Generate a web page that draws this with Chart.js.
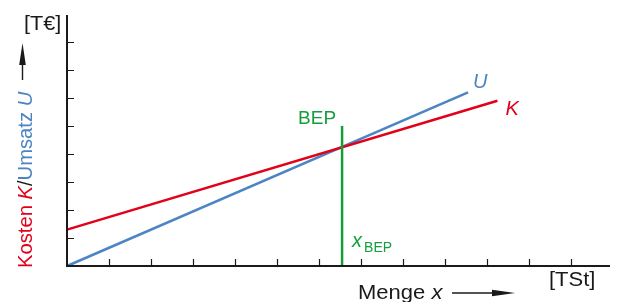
<!DOCTYPE html>
<html>
<head>
<meta charset="UTF-8">
<title>Break-even</title>
<script src="https://cdn.jsdelivr.net/npm/chart.js@4/dist/chart.umd.min.js"></script>
<style>
  html, body { margin: 0; padding: 0; background: #fff; }
  #wrap { width: 619px; height: 302px; }
</style>
</head>
<body>
<div id="wrap"><canvas id="canvas" width="619" height="302"></canvas></div>
<script>
// Werte (x in TSt-Einheiten, y in T€-Einheiten)
const kostenX = [0, 10.25];
const kostenY = [1.3, 5.9];
const umsatzX = [0, 9.55];
const umsatzY = [0, 6.2];
const bepX = [6.55, 6.55];
const bepY = [0, 5];
const xTicks = [1, 2, 3, 4, 5, 6, 7, 8, 9, 10, 11, 12];
const yTicks = [1, 2, 3, 4, 5, 6, 7, 8];

const RED = '#e2001a';
const BLUE = '#4d84c4';
const GREEN = '#139e3c';
const INK = '#1a1a1a';
const FONT = '"Liberation Sans", Arial, sans-serif';

function pts(xs, ys) {
  return xs.map((v, i) => ({ x: v, y: ys[i] }));
}

// Text in mehreren Farben nacheinander schreiben, optional horizontal gestreckt
function runs(ctx, x, y, parts, sx) {
  sx = sx || 1;
  ctx.save();
  ctx.translate(x, y);
  ctx.scale(sx, 1);
  let cx = 0;
  parts.forEach(p => {
    ctx.font = p.font;
    ctx.fillStyle = p.color;
    ctx.fillText(p.text, cx, 0);
    cx += ctx.measureText(p.text).width;
  });
  ctx.restore();
}

const overlay = {
  id: 'overlay',
  afterDatasetsDraw(chart) {
    const ctx = chart.ctx;
    const a = chart.chartArea;
    const xs = chart.scales.x, ys = chart.scales.y;
    ctx.save();

    // Achsen
    ctx.strokeStyle = INK;
    ctx.lineWidth = 2;
    ctx.beginPath();
    ctx.moveTo(a.left, a.top);
    ctx.lineTo(a.left, a.bottom);
    ctx.lineTo(a.right, a.bottom);
    ctx.stroke();

    ctx.lineWidth = 1.2;
    ctx.beginPath();
    xTicks.forEach(v => {
      const px = Math.round(xs.getPixelForValue(v)) + 0.5;
      ctx.moveTo(px, a.bottom);
      ctx.lineTo(px, a.bottom - 7);
    });
    yTicks.forEach(v => {
      const py = Math.round(ys.getPixelForValue(v)) + 0.5;
      ctx.moveTo(a.left, py);
      ctx.lineTo(a.left + 7, py);
    });
    ctx.stroke();

    ctx.textBaseline = 'alphabetic';
    ctx.textAlign = 'left';

    // Einheiten
    runs(ctx, 24, 30, [{ text: '[T€]', color: INK, font: '20px ' + FONT }], 1.08);
    runs(ctx, 549, 286, [{ text: '[TSt]', color: INK, font: '20px ' + FONT }], 1.1);

    // x-Achsentitel mit Pfeil
    runs(ctx, 358, 299, [
      { text: 'Menge ', color: INK, font: '20px ' + FONT },
      { text: 'x', color: INK, font: 'italic 20px ' + FONT }
    ], 1.1);
    ctx.fillStyle = INK;
    ctx.strokeStyle = INK;
    ctx.lineWidth = 1.4;
    ctx.beginPath();
    ctx.moveTo(452, 293);
    ctx.lineTo(498, 293);
    ctx.stroke();
    ctx.beginPath();
    ctx.moveTo(515, 293);
    ctx.lineTo(492, 289.8);
    ctx.lineTo(492, 296.2);
    ctx.closePath();
    ctx.fill();

    // y-Achsentitel (gedreht) mit Pfeil
    ctx.save();
    ctx.translate(31.5, 268);
    ctx.rotate(-Math.PI / 2);
    runs(ctx, 0, 0, [
      { text: 'Kosten ', color: RED, font: '20px ' + FONT },
      { text: 'K', color: RED, font: 'italic 20px ' + FONT },
      { text: '/', color: INK, font: '20px ' + FONT },
      { text: 'Umsatz ', color: BLUE, font: '20px ' + FONT },
      { text: 'U', color: BLUE, font: 'italic 20px ' + FONT }
    ], 1.01);
    ctx.restore();
    ctx.fillStyle = INK;
    ctx.beginPath();
    ctx.moveTo(22.5, 80);
    ctx.lineTo(22.5, 60);
    ctx.stroke();
    ctx.beginPath();
    ctx.moveTo(22.5, 43);
    ctx.lineTo(19.2, 65);
    ctx.lineTo(25.8, 65);
    ctx.closePath();
    ctx.fill();

    // Linienbeschriftungen
    const uEnd = { x: xs.getPixelForValue(umsatzX[1]), y: ys.getPixelForValue(umsatzY[1]) };
    const kEnd = { x: xs.getPixelForValue(kostenX[1]), y: ys.getPixelForValue(kostenY[1]) };
    const bTop = { x: xs.getPixelForValue(bepX[1]), y: ys.getPixelForValue(bepY[1]) };
    runs(ctx, uEnd.x + 5, uEnd.y - 4, [{ text: 'U', color: BLUE, font: 'italic 20px ' + FONT }]);
    runs(ctx, kEnd.x + 8, kEnd.y + 14, [{ text: 'K', color: RED, font: 'italic 20px ' + FONT }]);

    runs(ctx, bTop.x - 44, bTop.y - 2, [{ text: 'BEP', color: GREEN, font: '19px ' + FONT }]);
    runs(ctx, bTop.x + 10, 247, [{ text: 'x', color: GREEN, font: 'italic 20px ' + FONT }]);
    runs(ctx, bTop.x + 22, 252, [{ text: 'BEP', color: GREEN, font: '14px ' + FONT }]);

    ctx.restore();
  }
};

new Chart(document.getElementById('canvas').getContext('2d'), {
  type: 'scatter',
  data: {
    datasets: [
      { data: pts(bepX, bepY), borderColor: GREEN, borderWidth: 2.5 },
      { data: pts(kostenX, kostenY), borderColor: RED, borderWidth: 2.5 },
      { data: pts(umsatzX, umsatzY), borderColor: BLUE, borderWidth: 2.5 }
    ].map(d => Object.assign(d, { showLine: true, pointRadius: 0, clip: false, fill: false }))
  },
  options: {
    responsive: false,
    animation: false,
    layout: { padding: { left: 67, right: 9, top: 15, bottom: 36 } },
    plugins: { legend: { display: false }, tooltip: { enabled: false } },
    scales: {
      x: { type: 'linear', min: 0, max: 12.93, display: false },
      y: { type: 'linear', min: 0, max: 8.96, display: false }
    }
  },
  plugins: [overlay]
});
</script>
</body>
</html>
